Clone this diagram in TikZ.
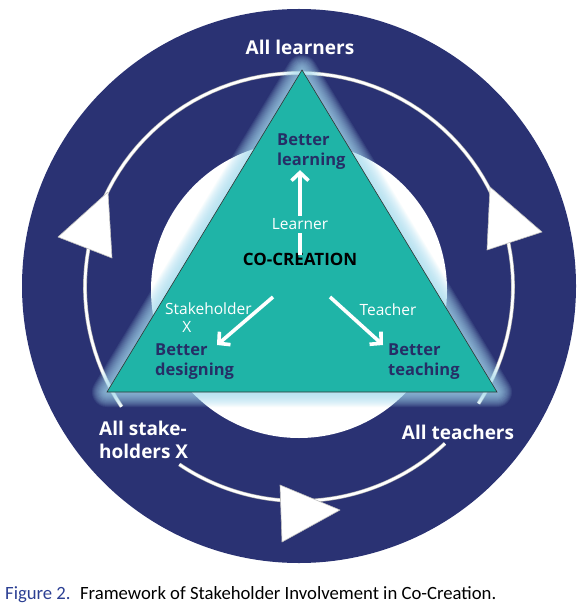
\documentclass[tikz,border=0pt]{standalone}
\usepackage{fontspec}
\setmainfont{Open Sans}
\newfontfamily\capfont{Carlito}
\usetikzlibrary{arrows.meta, positioning, calc}
\definecolor{navy}{HTML}{2A3273}
\definecolor{cotea}{HTML}{1FB4A7}
\definecolor{inkblue}{HTML}{262E66}
\definecolor{glowcy}{HTML}{A8DEF2}
\definecolor{figblue}{HTML}{2B3F93}

\begin{document}
\begin{tikzpicture}[x=1pt, y=-1pt,
  outerlbl/.style={text=white, font=\fontsize{19}{23}\selectfont\bfseries, align=left, inner sep=0pt},
  goallbl/.style={text=inkblue, font=\fontsize{16.5}{20}\selectfont\bfseries, align=left, inner sep=0pt},
  rolelbl/.style={text=white, font=\fontsize{15.5}{18}\selectfont, align=left, inner sep=1pt},
  wayarr/.style={white, line width=3.6pt, -{Straight Barb[length=8pt, width=17pt]}},
  ringhead/.style={fill=white, draw=black!25, line width=0.6pt, line join=round},
]
\useasboundingbox (0,0) rectangle (583,612);

% Outer disk and inner white disk
\fill[navy] (299,286) circle[radius=277];
\fill[white] (299,290) circle[radius=148];

% Ring with gaps next to the labels
\foreach \a/\b in {47/124, 146/393} {
  \draw[black!30, line width=3.8pt]
    plot[domain=\a:\b, samples=90] ({299+214*cos(\x)}, {287+214*sin(\x)});
  \draw[white, line width=2.6pt]
    plot[domain=\a:\b, samples=90] ({299+214*cos(\x)}, {287+214*sin(\x)});
}

% Ring arrowheads
\fill[ringhead] (58,237) -- (108,192) -- (112,258) -- cycle;
\fill[ringhead] (490,187) -- (542,232) -- (487,250) -- cycle;
\fill[ringhead] (280,485) -- (340,510) -- (282,542) -- cycle;

% Triangle with glow
\coordinate (apex) at (302,70);
\coordinate (bl) at (107,392);
\coordinate (br) at (497,392);
\foreach \w in {30,28,...,2}
  \draw[glowcy, line width=\w pt, opacity=0.09, line join=round] (apex) -- (bl) -- (br) -- cycle;
\filldraw[fill=cotea, draw=black!80, line width=0.6pt] (apex) -- (bl) -- (br) -- cycle;

% Outer labels
\node[outerlbl, anchor=base] (alllrn) at (300,55) {All learners};
\node[outerlbl, anchor=north west] (allstk) at (99,421) {All stake-\\holders X};
\node[outerlbl, anchor=base] (alltch) at (458,439) {All teachers};

% Inner labels
\node[goallbl, anchor=north west] (btlrn) at (277,134) {Better\\learning};
\node[goallbl, anchor=north west] (btdsg) at (155,344) {Better\\designing};
\node[goallbl, anchor=north west] (bttch) at (388,344) {Better\\teaching};
\node[font=\fontsize{17}{20}\selectfont\bfseries, anchor=base] (cocr) at (300,265) {CO-CREATION};
\node[rolelbl, anchor=north west] (stk) at (164,302) {Stakeholder\\\hspace*{1.1em}X};
\node[rolelbl, anchor=base] (tch) at (388,315) {Teacher};

% Arrows out of co-creation
\coordinate (dsgfrom) at (273,297);
\coordinate (dsgto) at (217,345);
\coordinate (tchfrom) at (330,297);
\coordinate (tchto) at (383,345);
\draw[wayarr] ($(cocr.north)+(0,6)$) -- ($(cocr.north |- btlrn.south)+(0,0)$)
  node[pos=0.36, fill=cotea, rolelbl, inner sep=3pt] (lrnr) {Learner};
\draw[wayarr] (dsgfrom) -- (dsgto);
\draw[wayarr] (tchfrom) -- (tchto);

% Caption
\node[anchor=base west, inner sep=0pt, font=\capfont\fontsize{18.7}{20}\selectfont] (capt) at (5,599)
  {\textcolor{figblue}{Figure 2.}\hspace{0.5em}Framework of Stakeholder Involvement in Co-Creation.};
\end{tikzpicture}
\end{document}
